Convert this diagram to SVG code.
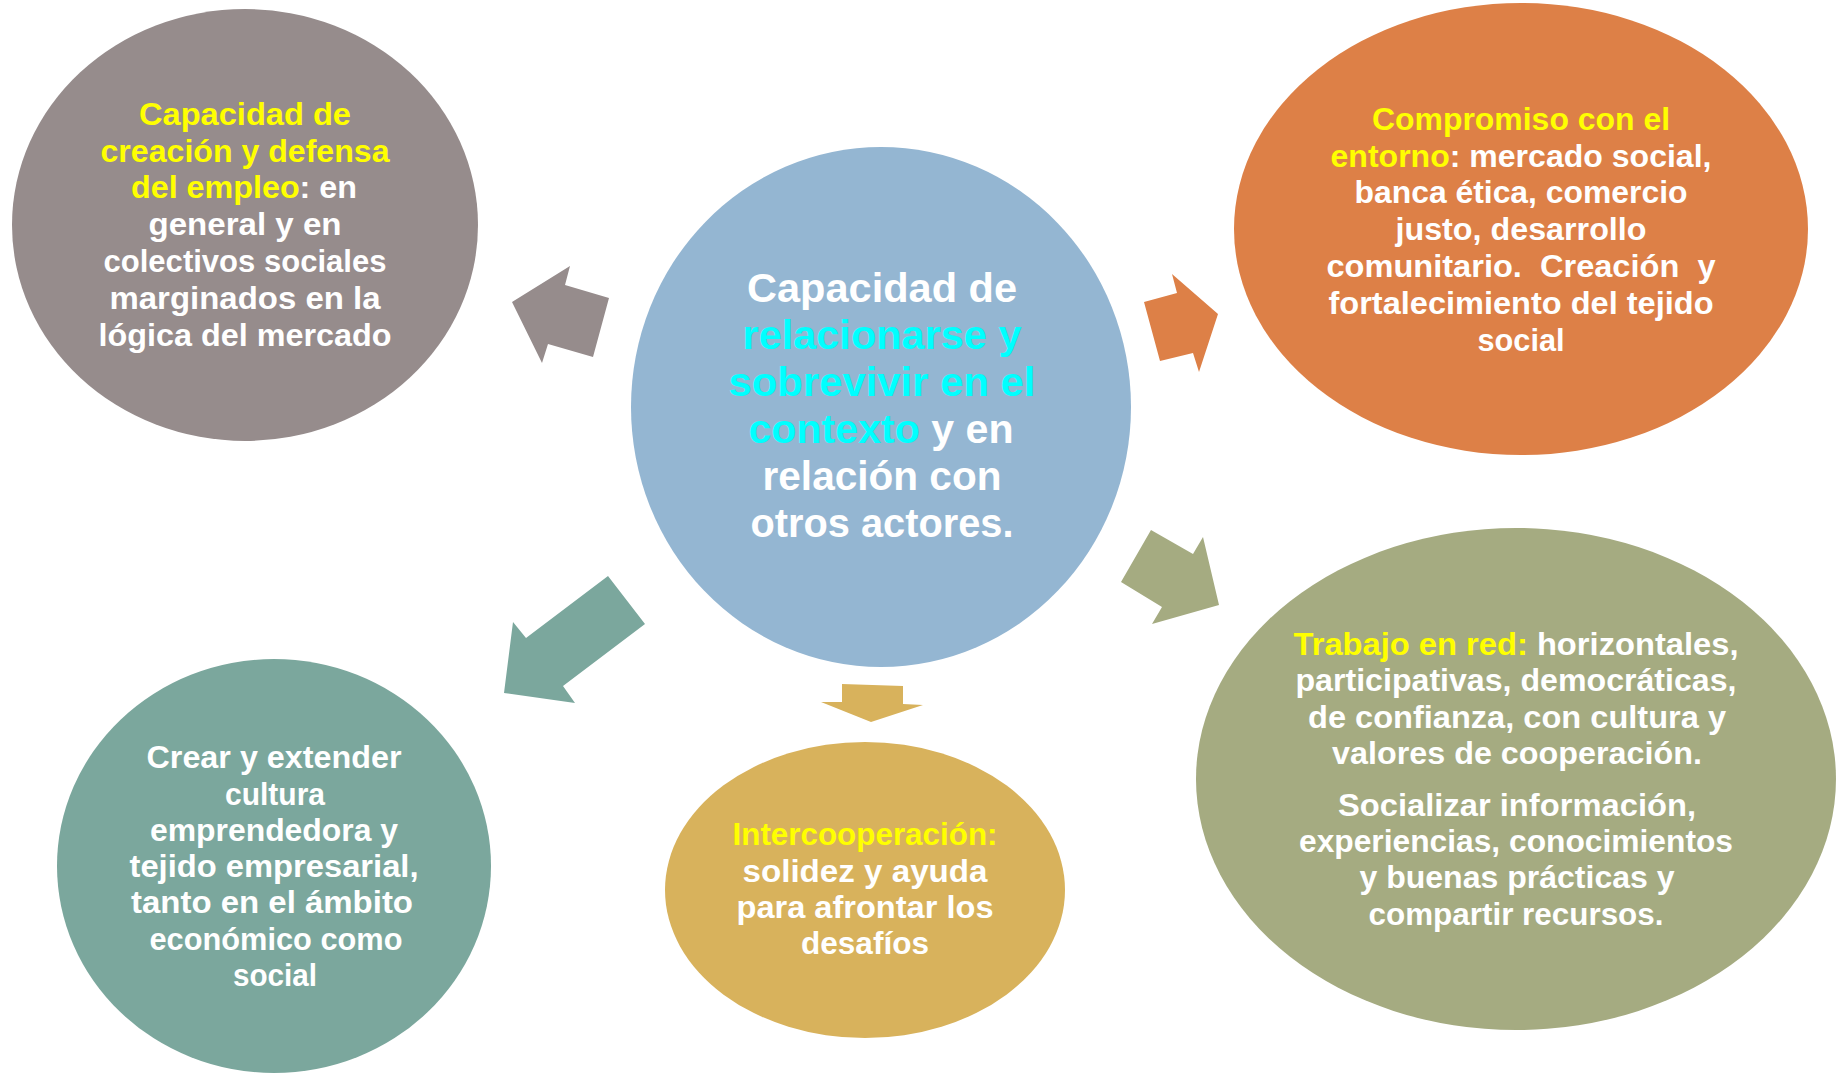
<svg xmlns="http://www.w3.org/2000/svg" width="1839" height="1075" viewBox="0 0 1839 1075">
<style>
  .t { font-family: "Liberation Sans", Arial, sans-serif; font-weight: bold; fill: #FFFFFF; text-anchor: middle; }
  .s31 { font-size: 31px; }
  .s32 { font-size: 32px; }
  .s41 { font-size: 41px; }
  .y { fill: #FFFF00; }
  .c { fill: #00FFFF; }
  .gray { fill: #968C8C; }
  .blue { fill: #94B6D2; }
  .orange { fill: #DD8047; }
  .olive { fill: #A5AB81; }
  .teal { fill: #7BA79D; }
  .gold { fill: #D8B25C; }
</style>
<rect x="0" y="0" width="1839" height="1075" fill="#FFFFFF"/>

<g id="connectors">
  <polygon class="gray" points="512,302 570,266 565,285 609,298 593,357 548,344 542,363"/>
  <polygon class="teal" points="608,576 645,624 563,686 575,703 504,693 513,622 526,638"/>
  <polygon class="orange" points="1144,302 1177,293 1172,274 1218,314 1199,372 1193,353 1160,361"/>
  <polygon class="olive" points="1151,530 1193,554 1203,537 1219,605 1152,624 1162,607 1121,582"/>
  <polygon class="gold" points="842,684 903,686 903,704 923,705 871,722 821,702 842,702"/>
</g>

<g id="node-center">
  <ellipse class="blue" cx="881" cy="407" rx="250" ry="260"/>
  <text class="t s41" x="882" y="302" textLength="270" lengthAdjust="spacingAndGlyphs">Capacidad de</text>
  <text class="t s41 c" x="882" y="349" textLength="279" lengthAdjust="spacingAndGlyphs">relacionarse y</text>
  <text class="t s41 c" x="882" y="396" textLength="307" lengthAdjust="spacingAndGlyphs">sobrevivir en el</text>
  <text class="t s41" x="881" y="443" textLength="265" lengthAdjust="spacingAndGlyphs"><tspan class="c">contexto</tspan> y en</text>
  <text class="t s41" x="882" y="490" textLength="239" lengthAdjust="spacingAndGlyphs">relación con</text>
  <text class="t s41" x="882" y="537" textLength="263" lengthAdjust="spacingAndGlyphs">otros actores.</text>
</g>

<g id="node-empleo">
  <ellipse class="gray" cx="245" cy="225" rx="233" ry="216"/>
  <text class="t s31 y" x="245" y="125" textLength="212" lengthAdjust="spacingAndGlyphs">Capacidad de</text>
  <text class="t s31 y" x="245" y="162" textLength="289" lengthAdjust="spacingAndGlyphs">creación y defensa</text>
  <text class="t s31" x="244" y="198" textLength="226" lengthAdjust="spacingAndGlyphs"><tspan class="y">del empleo</tspan>: en</text>
  <text class="t s31" x="245" y="235" textLength="193" lengthAdjust="spacingAndGlyphs">general y en</text>
  <text class="t s31" x="245" y="272" textLength="283" lengthAdjust="spacingAndGlyphs">colectivos sociales</text>
  <text class="t s31" x="245" y="309" textLength="271" lengthAdjust="spacingAndGlyphs">marginados en la</text>
  <text class="t s31" x="245" y="346" textLength="293" lengthAdjust="spacingAndGlyphs">lógica del mercado</text>
</g>

<g id="node-entorno">
  <ellipse class="orange" cx="1521" cy="229" rx="287" ry="226"/>
  <text class="t s32 y" x="1521" y="130" textLength="298" lengthAdjust="spacingAndGlyphs">Compromiso con el</text>
  <text class="t s32" x="1521" y="167" textLength="381" lengthAdjust="spacingAndGlyphs"><tspan class="y">entorno</tspan>: mercado social,</text>
  <text class="t s32" x="1521" y="203" textLength="333" lengthAdjust="spacingAndGlyphs">banca ética, comercio</text>
  <text class="t s32" x="1521" y="240" textLength="251" lengthAdjust="spacingAndGlyphs">justo, desarrollo</text>
  <text class="t s32" x="1521" y="277" xml:space="preserve" textLength="389" lengthAdjust="spacingAndGlyphs">comunitario.  Creación  y</text>
  <text class="t s32" x="1521" y="314" textLength="385" lengthAdjust="spacingAndGlyphs">fortalecimiento del tejido</text>
  <text class="t s32" x="1521" y="351" textLength="87" lengthAdjust="spacingAndGlyphs">social</text>
</g>

<g id="node-red">
  <ellipse class="olive" cx="1516" cy="779" rx="320" ry="251"/>
  <text class="t s32" x="1516" y="655" textLength="445" lengthAdjust="spacingAndGlyphs"><tspan class="y">Trabajo en red:</tspan> horizontales,</text>
  <text class="t s32" x="1516" y="691" textLength="441" lengthAdjust="spacingAndGlyphs">participativas, democráticas,</text>
  <text class="t s32" x="1517" y="728" textLength="418" lengthAdjust="spacingAndGlyphs">de confianza, con cultura y</text>
  <text class="t s32" x="1517" y="764" textLength="370" lengthAdjust="spacingAndGlyphs">valores de cooperación.</text>
  <text class="t s32" x="1517" y="816" textLength="358" lengthAdjust="spacingAndGlyphs">Socializar información,</text>
  <text class="t s32" x="1516" y="852" textLength="434" lengthAdjust="spacingAndGlyphs">experiencias, conocimientos</text>
  <text class="t s32" x="1517" y="888" textLength="315" lengthAdjust="spacingAndGlyphs">y buenas prácticas y</text>
  <text class="t s32" x="1516" y="925" textLength="295" lengthAdjust="spacingAndGlyphs">compartir recursos.</text>
</g>

<g id="node-cultura">
  <ellipse class="teal" cx="274" cy="866" rx="217" ry="207"/>
  <text class="t s31" x="274" y="768" textLength="255" lengthAdjust="spacingAndGlyphs">Crear y extender</text>
  <text class="t s31" x="275" y="805" textLength="100" lengthAdjust="spacingAndGlyphs">cultura</text>
  <text class="t s31" x="274" y="841" textLength="248" lengthAdjust="spacingAndGlyphs">emprendedora y</text>
  <text class="t s31" x="274" y="877" textLength="289" lengthAdjust="spacingAndGlyphs">tejido empresarial,</text>
  <text class="t s31" x="272" y="913" textLength="282" lengthAdjust="spacingAndGlyphs">tanto en el ámbito</text>
  <text class="t s31" x="276" y="950" textLength="253" lengthAdjust="spacingAndGlyphs">económico como</text>
  <text class="t s31" x="275" y="986" textLength="84" lengthAdjust="spacingAndGlyphs">social</text>
</g>

<g id="node-intercooperacion">
  <ellipse class="gold" cx="865" cy="890" rx="200" ry="148"/>
  <text class="t s31 y" x="865" y="845" textLength="265" lengthAdjust="spacingAndGlyphs">Intercooperación:</text>
  <text class="t s31" x="865" y="882" textLength="245" lengthAdjust="spacingAndGlyphs">solidez y ayuda</text>
  <text class="t s31" x="865" y="918" textLength="257" lengthAdjust="spacingAndGlyphs">para afrontar los</text>
  <text class="t s31" x="865" y="954" textLength="128" lengthAdjust="spacingAndGlyphs">desafíos</text>
</g>
</svg>
